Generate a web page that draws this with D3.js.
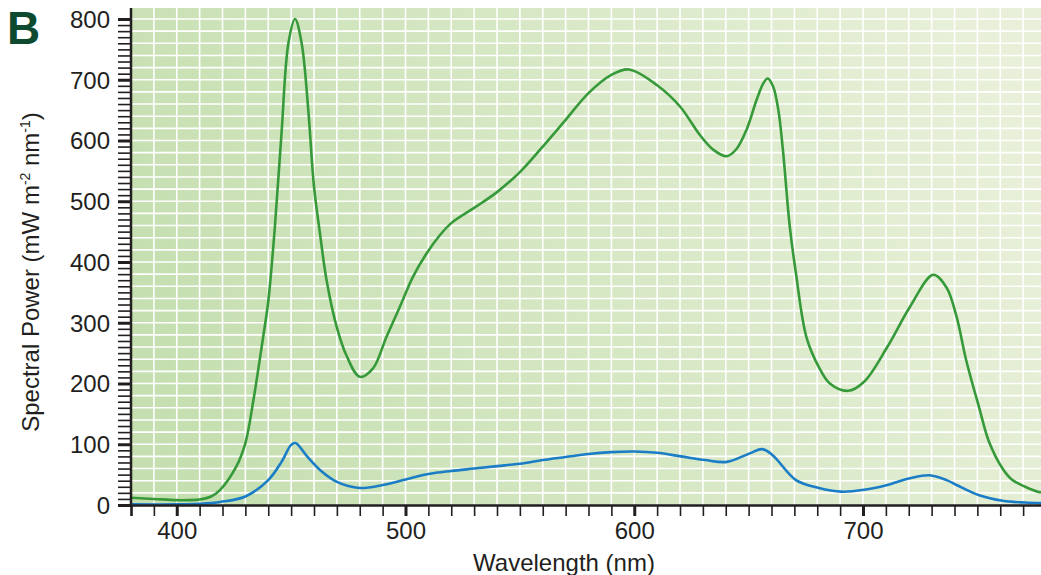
<!DOCTYPE html>
<html lang="en">
<head>
    <meta charset="UTF-8">
    <title>Spectral Power</title>
    <script src="https://cdn.jsdelivr.net/npm/d3@7/dist/d3.min.js" charset="utf-8"></script>
    <style>
        body {
            margin: 0;
            padding: 0;
            background: #fff;
        }
        text {
            font-family: "Liberation Sans", Arial, Helvetica, sans-serif;
            fill: #231f20;
        }
        .grid line {
            stroke: #fff;
            stroke-width: 1.6;
        }
        .series {
            fill: none;
            stroke-width: 2.6;
            stroke-linejoin: round;
            stroke-linecap: round;
        }
    </style>
</head>
<body>
<svg width="1041" height="575"></svg>
<script>
    // wavelengths (nm) and spectral power values
    var greenNm = [380, 390, 400, 405, 410, 415, 419, 426, 430, 433.4, 437.7, 440, 442.9, 445.8, 448.8, 451.7,
        454.6, 457.5, 460, 462.5, 465.5, 469.8, 474.2, 480, 485.8, 491.7, 497.5, 503.3, 509.2, 515, 520, 530,
        540, 550, 560, 570, 580, 590, 597.7, 610, 620, 628.7, 634.5, 640.4, 644.7, 649, 653.5, 656.4, 658.3,
        660.7, 663, 665, 668, 670.7, 675.3, 680.7, 685.5, 693.5, 700.5, 710.6, 720.5, 730.7, 736.5, 740.9,
        745, 750.8, 755, 761, 765, 770.9, 776.4, 780];
    var greenVal = [12, 10, 8, 8, 9, 14, 25, 63, 102, 170, 275, 335, 458, 612, 760, 800,
        760, 650, 524, 450, 370, 295, 246, 211, 225, 277, 326, 376, 414, 444, 464, 489,
        515, 548, 590, 634, 678, 708, 717, 691, 656, 609, 585, 574, 586, 617, 667, 694, 702,
        689, 650, 584, 458, 381, 276, 227, 200, 188, 203, 260, 326, 379, 358, 310,
        240, 160, 105, 60, 42, 30, 22, 20];

    var blueNm = [380, 400, 410, 419, 430, 440, 445.8, 450, 451.9, 457, 462.5, 470, 480, 490, 500, 510, 520,
        530, 540, 550, 560, 570, 580, 590, 600, 610, 620.5, 631, 640.5, 650.5, 656, 660.5, 670.7, 680.7,
        690.5, 700.5, 710.6, 720.5, 729, 736.5, 740.9, 750.8, 761, 770.9, 780];
    var blueVal = [1, 1, 2, 5, 14, 41, 71, 99, 102, 80, 58, 38, 28, 33, 42, 51, 56,
        60, 64, 68, 74, 79, 84, 87, 88, 86, 80, 74, 71, 85, 92, 82, 41, 28,
        22, 25, 33, 44, 49, 41, 33, 16, 7, 4, 3];

    var xTicks = [400, 500, 600, 700];
    var yTicks = [0, 100, 200, 300, 400, 500, 600, 700, 800];

    var svg = d3.select('svg');
    var x = d3.scaleLinear().domain([380, 780]).range([131, 1046]);
    var y = d3.scaleLinear().domain([0, 800]).range([505, 19]);
    var plotTop = 8;

    // background gradient
    var grad = svg.append('defs').append('linearGradient')
            .attr('id', 'bg')
            .attr('x1', '0').attr('y1', '0.6')
            .attr('x2', '1').attr('y2', '0.4');
    grad.append('stop').attr('offset', '0').attr('stop-color', '#c5dfb0');
    grad.append('stop').attr('offset', '1').attr('stop-color', '#e8f0d9');

    svg.append('rect')
            .attr('x', x(380))
            .attr('y', plotTop)
            .attr('width', x(780) - x(380))
            .attr('height', y(0) - plotTop)
            .style('fill', 'url(#bg)');

    // grid
    var grid = svg.append('g').attr('class', 'grid');
    grid.selectAll('.v').data(d3.range(390, 781, 10)).enter().append('line')
            .attr('x1', function(d) { return x(d); })
            .attr('x2', function(d) { return x(d); })
            .attr('y1', plotTop)
            .attr('y2', y(0));
    grid.selectAll('.h').data(d3.range(20, 801, 20)).enter().append('line')
            .attr('x1', x(380))
            .attr('x2', x(780))
            .attr('y1', function(d) { return y(d); })
            .attr('y2', function(d) { return y(d); });

    // lines
    var line = d3.line()
            .x(function(d) { return x(d[0]); })
            .y(function(d) { return y(d[1]); })
            .curve(d3.curveCatmullRom.alpha(0.5));

    svg.append('path')
            .attr('class', 'series')
            .attr('d', line(d3.zip(greenNm, greenVal)))
            .style('stroke', '#379a3a');
    svg.append('path')
            .attr('class', 'series')
            .attr('d', line(d3.zip(blueNm, blueVal)))
            .style('stroke', '#1a7dc6');

    // x axis
    var xAxis = d3.axisBottom(x)
            .tickValues(d3.range(380, 781, 10))
            .tickSize(11)
            .tickFormat(function(d) { return xTicks.indexOf(d) >= 0 ? d : ''; });
    var gx = svg.append('g').attr('transform', 'translate(0,' + y(0) + ')').call(xAxis);
    gx.select('.domain').attr('stroke', '#231f20').attr('stroke-width', 2.5);
    gx.selectAll('.tick line')
            .attr('stroke', '#231f20')
            .attr('stroke-width', function(d) { return d % 100 === 0 ? 3 : 1.6; });
    gx.selectAll('.tick text')
            .attr('y', 17)
            .style('font-size', '24px')
            .style('fill', '#231f20');

    // y axis
    var yAxis = d3.axisLeft(y)
            .tickValues(d3.range(0, 801, 10))
            .tickSize(13)
            .tickFormat(function(d) { return yTicks.indexOf(d) >= 0 ? d : ''; });
    var gy = svg.append('g').attr('transform', 'translate(' + x(380) + ',0)').call(yAxis);
    gy.select('.domain').attr('stroke', '#231f20').attr('stroke-width', 2.5)
            .attr('d', 'M0,' + plotTop + 'V' + y(0));
    gy.selectAll('.tick line')
            .attr('stroke', '#231f20')
            .attr('stroke-width', function(d) { return d % 100 === 0 ? 3 : 1.6; });
    gy.selectAll('.tick text')
            .attr('x', -21)
            .attr('dy', '0.35em')
            .style('font-size', '24px')
            .style('fill', '#231f20');

    // labels
    svg.append('text')
            .attr('x', 564)
            .attr('y', 571)
            .attr('text-anchor', 'middle')
            .style('font-size', '24px')
            .text('Wavelength (nm)');

    var yl = svg.append('text')
            .attr('transform', 'translate(39,272) rotate(-90)')
            .attr('text-anchor', 'middle')
            .style('font-size', '24px');
    yl.append('tspan').text('Spectral Power (mW m');
    yl.append('tspan').attr('dy', -9).style('font-size', '14px').text('-2');
    yl.append('tspan').attr('dy', 9).text(' nm');
    yl.append('tspan').attr('dy', -9).style('font-size', '14px').text('-1');
    yl.append('tspan').attr('dy', 9).text(')');

    svg.append('text')
            .attr('x', 7)
            .attr('y', 44)
            .style('font-size', '46px')
            .style('font-weight', 'bold')
            .style('fill', '#0d4a2f')
            .text('B');
</script>
</body>
</html>
